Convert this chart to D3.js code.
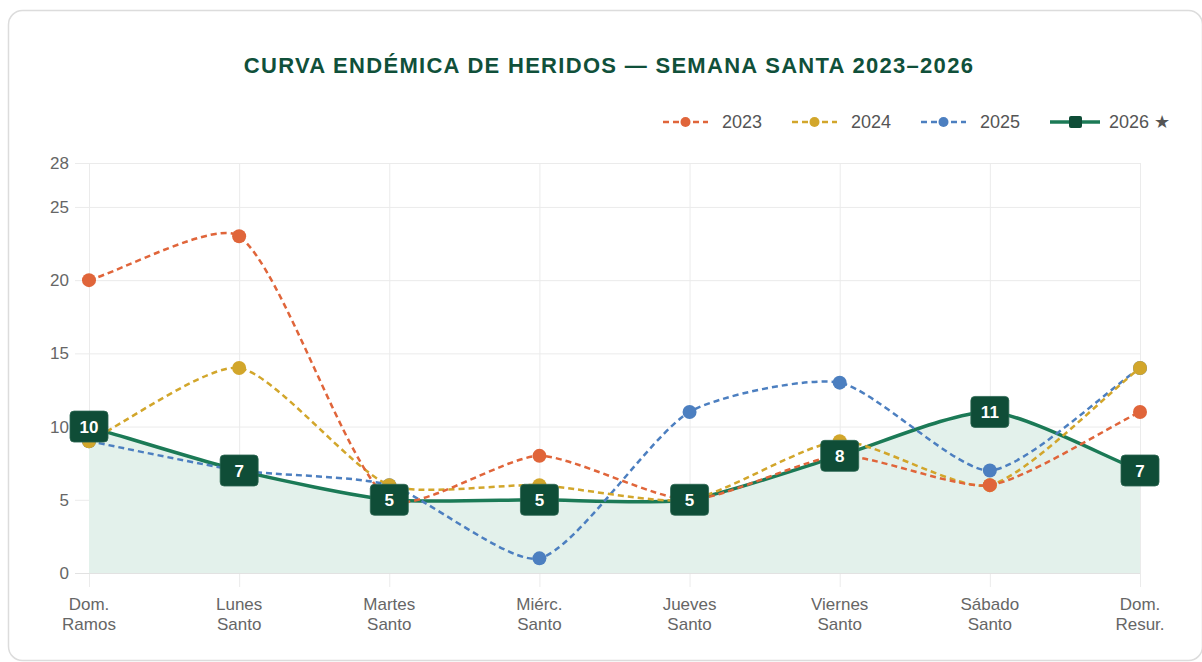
<!DOCTYPE html>
<html>
<head>
<meta charset="utf-8">
<script src="https://cdn.jsdelivr.net/npm/d3@7"></script>
<style>
  html, body { margin: 0; padding: 0; background: #fff; }
  svg { display: block; font-family: "Liberation Sans", Arial, Helvetica, sans-serif; }
</style>
</head>
<body>
<div id="chart"></div>
<script>
// Data
const days = ["Dom. Ramos", "Lunes Santo", "Martes Santo", "Miérc. Santo", "Jueves Santo", "Viernes Santo", "Sábado Santo", "Dom. Resur."]
const dayLines = [["Dom.", "Ramos"], ["Lunes", "Santo"], ["Martes", "Santo"], ["Miérc.", "Santo"],
    ["Jueves", "Santo"], ["Viernes", "Santo"], ["Sábado", "Santo"], ["Dom.", "Resur."]]
const values2023 = [20, 23, 5, 8, 5, 8, 6, 11]
const values2024 = [9, 14, 6, 6, 5, 9, 6, 14]
const values2025 = [9, 7, 6, 1, 11, 13, 7, 14]
const values2026 = [10, 7, 5, 5, 5, 8, 11, 7]
const yTicks = [0, 5, 10, 15, 20, 25, 28]
const yMax = 28
const titleText = "CURVA ENDÉMICA DE HERIDOS — SEMANA SANTA 2023–2026"

const series = [
    { name: "2023", values: values2023, color: "#e0653a" },
    { name: "2024", values: values2024, color: "#d2a62b" },
    { name: "2025", values: values2025, color: "#4c7fc0" },
    { name: "2026 ★", values: values2026, color: "#1b7a56", current: true }
]

const W = 1202, H = 662
const area = { left: 89, right: 1140, top: 163, bottom: 573 }
const boxColor = "#0f4d37"
const tension = 0.22

const svg = d3.select("#chart").append("svg")
    .attr("width", W)
    .attr("height", H)

// card
svg.append("rect")
    .attr("x", 8.5).attr("y", 10.5)
    .attr("width", 1194).attr("height", 650)
    .attr("rx", 14)
    .attr("fill", "#fff")
    .attr("stroke", "#dcdcdc")
    .attr("stroke-width", 1.5)

svg.append("text")
    .attr("x", 609)
    .attr("y", 73)
    .attr("text-anchor", "middle")
    .attr("font-size", 22)
    .attr("font-weight", "bold")
    .attr("letter-spacing", 1.3)
    .attr("fill", "#10503a")
    .text(titleText)

const x = d3.scalePoint().domain(days).range([area.left, area.right])
const y = d3.scaleLinear().domain([0, yMax]).range([area.bottom, area.top])

// grid + axes
const xAxis = svg.append("g")
    .attr("transform", "translate(0," + area.bottom + ")")
    .call(d3.axisBottom(x).tickSize(-(area.bottom - area.top)).tickSizeOuter(0).tickFormat(""))
xAxis.selectAll(".tick line")
    .attr("stroke", "#ebebeb")
    .attr("y1", 14)
xAxis.select(".domain").attr("stroke", "#e2e2e2")

const yAxis = svg.append("g")
    .attr("transform", "translate(" + area.left + ",0)")
    .call(d3.axisLeft(y).tickValues(yTicks).tickSize(-(area.right - area.left)).tickSizeOuter(0).tickPadding(20))
yAxis.selectAll(".tick line")
    .attr("stroke", "#ebebeb")
    .attr("x1", -14)
yAxis.select(".domain").remove()
yAxis.selectAll(".tick text")
    .attr("font-size", 17)
    .attr("font-family", null)
    .attr("fill", "#666")
yAxis.selectAll(".tick").filter(d => d === 0).select("line").attr("stroke", "#e2e2e2")

// two-line x labels
svg.append("g")
    .selectAll("text")
    .data(days)
    .enter().append("text")
    .attr("x", d => x(d))
    .attr("y", 610)
    .attr("text-anchor", "middle")
    .attr("font-size", 17)
    .attr("fill", "#666")
    .each(function (d, i) {
        d3.select(this).selectAll("tspan")
            .data(dayLines[i])
            .enter().append("tspan")
            .attr("x", x(d))
            .attr("dy", (t, j) => j === 0 ? 0 : 20)
            .text(t => t)
    })

// spline like the chart's default line tension: control points from neighbours, weighted by distance
function splinePath(values, closeToZero) {
    const pts = values.map((v, i) => ({ x: x(days[i]), y: y(v) }))
    const cps = pts.map((cur, i) => {
        const prev = pts[i - 1] || cur
        const next = pts[i + 1] || cur
        const d01 = Math.hypot(cur.x - prev.x, cur.y - prev.y)
        const d12 = Math.hypot(next.x - cur.x, next.y - cur.y)
        let s01 = d01 / (d01 + d12), s12 = d12 / (d01 + d12)
        if (isNaN(s01)) s01 = 0
        if (isNaN(s12)) s12 = 0
        const fa = tension * s01, fb = tension * s12
        const cap = (px, py) => ({
            x: Math.max(area.left, Math.min(area.right, px)),
            y: Math.max(area.top, Math.min(area.bottom, py))
        })
        return {
            before: cap(cur.x - fa * (next.x - prev.x), cur.y - fa * (next.y - prev.y)),
            after: cap(cur.x + fb * (next.x - prev.x), cur.y + fb * (next.y - prev.y))
        }
    })
    const p = d3.path()
    p.moveTo(pts[0].x, pts[0].y)
    for (let i = 1; i < pts.length; i++) {
        p.bezierCurveTo(cps[i - 1].after.x, cps[i - 1].after.y, cps[i].before.x, cps[i].before.y, pts[i].x, pts[i].y)
    }
    if (closeToZero) {
        p.lineTo(pts[pts.length - 1].x, y(0))
        p.lineTo(pts[0].x, y(0))
        p.closePath()
    }
    return p.toString()
}

const current = series.find(s => s.current)

// current year drawn first, like the chart's dataset order
svg.append("path")
    .attr("d", splinePath(current.values, true))
    .attr("fill", "#e3f1eb")

svg.append("path")
    .attr("d", splinePath(current.values, false))
    .attr("fill", "none")
    .attr("stroke", current.color)
    .attr("stroke-width", 3.5)

const past = series.filter(s => !s.current).reverse()
past.forEach(s => {
    const g = svg.append("g")
    g.append("path")
        .attr("d", splinePath(s.values, false))
        .attr("fill", "none")
        .attr("stroke", s.color)
        .attr("stroke-width", 2.5)
        .attr("stroke-dasharray", "6,4")
    g.selectAll("circle")
        .data(s.values)
        .enter().append("circle")
        .attr("cx", (v, i) => x(days[i]))
        .attr("cy", v => y(v))
        .attr("r", 7)
        .attr("fill", s.color)
})

// value boxes of the current year
const boxes = svg.append("g")
    .selectAll("g")
    .data(current.values)
    .enter().append("g")
    .attr("transform", (v, i) => "translate(" + x(days[i]) + "," + y(v) + ")")
boxes.append("rect")
    .attr("x", -19).attr("y", -15.5)
    .attr("width", 38).attr("height", 31)
    .attr("rx", 4)
    .attr("fill", boxColor)
    .attr("stroke", "#2b6650")
    .attr("stroke-width", 0.8)
boxes.append("text")
    .attr("text-anchor", "middle")
    .attr("dy", "0.36em")
    .attr("font-size", 17)
    .attr("font-weight", "bold")
    .attr("fill", "#fff")
    .text(v => v)

// legend
const legend = svg.append("g")
    .selectAll("g")
    .data(series)
    .enter().append("g")
    .attr("transform", (d, i) => "translate(" + (663 + i * 129) + ",122)")
legend.append("line")
    .attr("x1", 0)
    .attr("x2", d => d.current ? 50 : 45)
    .attr("stroke", d => d.color)
    .attr("stroke-width", d => d.current ? 3.5 : 2.5)
    .attr("stroke-dasharray", d => d.current ? null : "6,4")
legend.filter(d => !d.current).append("circle")
    .attr("cx", 22.5)
    .attr("r", 5)
    .attr("fill", d => d.color)
legend.filter(d => d.current).append("rect")
    .attr("x", 19).attr("y", -6)
    .attr("width", 13).attr("height", 12)
    .attr("rx", 2)
    .attr("fill", boxColor)
legend.append("text")
    .attr("x", 59)
    .attr("dy", "0.36em")
    .attr("font-size", 18)
    .attr("fill", "#555")
    .text(d => d.name)
</script>
</body>
</html>
